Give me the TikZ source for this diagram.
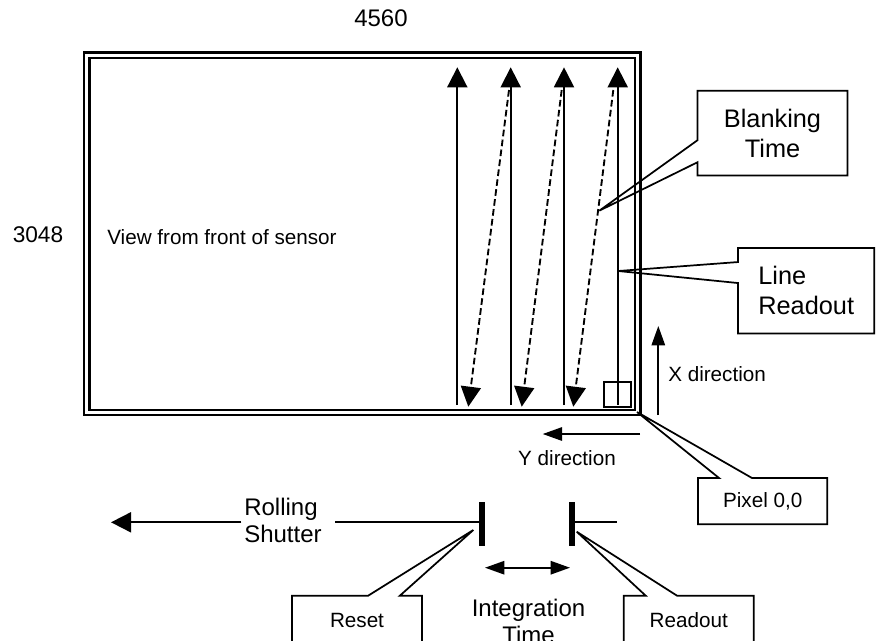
\documentclass[tikz,border=0pt]{standalone}
\usepackage{fontspec}
\setmainfont{Liberation Sans}
\usetikzlibrary{arrows.meta}

\tikzset{
  bigtip/.tip={Triangle[length=15pt,width=15pt]},
  thintip/.tip={Triangle[length=14.5pt,width=10pt]},
  ln/.style={line width=1.4pt},
  blank/.style={ln,dash pattern=on 5pt off 2.5pt},
  bar/.style={line width=4.5pt},
  callout/.style={line width=1.3pt,line join=miter},
  bigtxt/.style={font=\fontsize{18}{20.25}\selectfont,inner sep=0pt,align=center},
  midtxt/.style={font=\fontsize{19}{22.5}\selectfont,inner sep=0pt},
  smalltxt/.style={font=\fontsize{15.5}{18}\selectfont,inner sep=0pt},
}

\begin{document}
\begin{tikzpicture}[x=0.75pt,y=-0.75pt]
  \useasboundingbox (0,0) rectangle (877,640);
  \clip (0,0) rectangle (877,640);

  % sensor outline
  \draw[line width=2pt] (84,52.2) rectangle (640.3,415);
  \draw[line width=1.7pt] (89.5,58) rectangle (635.3,409.7);

  \node[bigtxt] (width) at (381,18) {4560};
  \node[font=\fontsize{17}{20}\selectfont,inner sep=0pt] (height) at (38,235) {3048};
  \node[font=\fontsize{15.5}{20}\selectfont,inner sep=0pt,anchor=west] (view) at (107,237) {View from front of sensor};

  % line readouts, bottom to top
  \foreach \i/\x in {1/457.3,2/510.7,3/564,4/617.7}{
    \coordinate (lo\i) at (\x,405);
    \coordinate (hi\i) at (\x,67.3);
    \draw[ln,-bigtip] (lo\i) -- (hi\i);
  }
  % blanking, back to the bottom
  \foreach \i/\a/\b in {1/509/468.3,2/561.7/521.7,3/613.3/573.3}{
    \coordinate (bs\i) at (\a,90);
    \coordinate (be\i) at (\b,406.7);
    \draw[blank,-bigtip] (bs\i) -- (be\i);
  }

  \node[draw,ln,minimum width=20pt,minimum height=18.3pt,inner sep=0pt] (pix) at (617.7,394.5) {};

  % directions
  \coordinate (xs) at (658.3,415);
  \coordinate (xe) at (658.3,326);
  \draw[ln,-thintip] (xs) -- (xe);
  \node[smalltxt,anchor=west] (xlbl) at (668,374) {X direction};
  \coordinate (ys) at (640,434);
  \coordinate (ye) at (542.7,434);
  \draw[ln,-thintip] (ys) -- (ye);
  \node[smalltxt] (ylbl) at (567,458) {Y direction};

  % callouts
  \coordinate (blanktip) at (599.3,210.7);
  \node[midtxt,align=center,minimum width=112.2pt,minimum height=63.2pt] (blanklbl) at (772.5,133.2) {Blanking\\Time};
  \draw[callout] (blanklbl.north west) -- (blanklbl.north east) -- (blanklbl.south east) -- (blanklbl.south west)
    -- ([yshift=10pt]blanklbl.south west) -- (blanktip) -- ([yshift=26.5pt]blanklbl.south west) -- cycle;

  \coordinate (linetip) at (618.3,271);
  \node[midtxt,align=left,minimum width=101.8pt,minimum height=63.75pt] (linelbl) at (806.2,290.8) {Line\\Readout};
  \draw[callout] (linelbl.north west) -- ([yshift=-10.5pt]linelbl.north west) -- (linetip)
    -- ([yshift=-26.25pt]linelbl.north west) -- (linelbl.south west) -- (linelbl.south east)
    -- (linelbl.north east) -- cycle;

  \coordinate (pixtip) at (637,412);
  \node[smalltxt,minimum width=96.5pt,minimum height=34.3pt] (pixlbl) at (762.7,501.2) {Pixel 0,0};
  \draw[callout] (pixlbl.north west) -- ([xshift=15.75pt]pixlbl.north west) -- (pixtip)
    -- ([xshift=40.5pt]pixlbl.north west) -- (pixlbl.north east) -- (pixlbl.south east)
    -- (pixlbl.south west) -- cycle;

  % rolling shutter
  \coordinate (reset) at (482,522.3);
  \coordinate (read) at (571.7,522.3);
  \coordinate (readend) at (617.3,522.3);
  \coordinate (rolltip) at (111,522.3);
  \node[bigtxt,align=left,anchor=west] (roll) at (244,520.5) {Rolling\\Shutter};
  \coordinate (rollL) at (roll.west |- reset);
  \coordinate (rollR) at (roll.east |- reset);
  \draw[ln,-bigtip] ([xshift=-2pt]rollL) -- (rolltip);
  \draw[ln] (reset) -- ([xshift=10pt]rollR);
  \draw[ln] (read) -- (readend);
  \draw[bar] ([yshift=15pt]reset) -- ([yshift=-17.5pt]reset);
  \draw[bar] ([yshift=15pt]read) -- ([yshift=-17.5pt]read);

  \coordinate (intL) at (485,567.7);
  \coordinate (intR) at (570,567.7);
  \draw[ln,thintip-thintip] (intL) -- (intR);
  \node[bigtxt] (integ) at (528.5,621.5) {Integration\\Time};

  \coordinate (resettip) at (473.3,530);
  \node[smalltxt,minimum width=97pt,minimum height=36pt] (resetlbl) at (357,620) {Reset};
  \draw[callout] (resetlbl.north west) -- ([xshift=57pt]resetlbl.north west) -- (resettip)
    -- ([xshift=80.8pt]resetlbl.north west) -- (resetlbl.north east) -- (resetlbl.south east)
    -- (resetlbl.south west) -- cycle;

  \coordinate (readtip) at (576.7,531.7);
  \node[smalltxt,minimum width=97pt,minimum height=36pt] (readlbl) at (688.7,620) {Readout};
  \draw[callout] (readlbl.north west) -- ([xshift=16.5pt]readlbl.north west) -- (readtip)
    -- ([xshift=40pt]readlbl.north west) -- (readlbl.north east) -- (readlbl.south east)
    -- (readlbl.south west) -- cycle;
\end{tikzpicture}
\end{document}
